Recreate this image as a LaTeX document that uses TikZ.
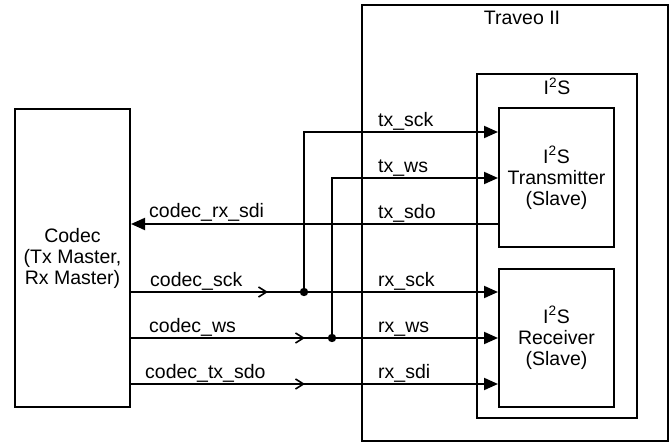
\documentclass[tikz,border=0pt]{standalone}
\usepackage{fontspec}
\setmainfont{Liberation Sans}
\usetikzlibrary{arrows.meta}
\begin{document}
\begin{tikzpicture}[x=1pt,y=-1pt,
  every node/.style={font=\fontsize{19.5}{21}\selectfont},
  box/.style={draw,line width=2pt,inner sep=0pt,align=center},
  wire/.style={line width=2pt},
  lbl/.style={inner sep=0pt,anchor=base west},
  sarrow/.style={-{Triangle[length=14pt,width=12pt]}},
  barb/.style={-{Straight Barb[length=8pt,width=10pt,line width=1.6pt]}}]
\useasboundingbox (0,0) rectangle (670,443);
% boxes
\node[box,minimum width=115pt,minimum height=298pt] (codec) at (72.5,258) {Codec\\(Tx Master,\\Rx Master)};
\node[box,minimum width=306pt,minimum height=436pt] (traveo) at (515,223) {};
\node[inner sep=0pt,anchor=base] (traveolbl) at (522,25) {Traveo II};
\node[box,minimum width=160pt,minimum height=344pt] (i2s) at (557,246) {};
\node[inner sep=0pt,anchor=base] (i2slbl) at (557,95) {I\textsuperscript{2}S};
\node[box,minimum width=115pt,minimum height=139pt] (tx) at (556.5,177.5) {I\textsuperscript{2}S\\Transmitter\\(Slave)};
\node[box,minimum width=115pt,minimum height=138pt] (rx) at (556.5,338) {I\textsuperscript{2}S\\Receiver\\(Slave)};
% coordinates
\coordinate (sckdot) at (304,292);
\coordinate (wsdot) at (332,338);
\coordinate (sdoy) at (0,224);
\coordinate (sdiy) at (0,384);
\coordinate (txscky) at (0,132);
\coordinate (txwsy) at (0,178);
\coordinate (sckbarb) at (268,292);
\coordinate (wsbarb) at (305,338);
\coordinate (sdibarb) at (305,384);
% wires
\draw[wire,sarrow] (tx.west |- sdoy) -- (codec.east |- sdoy);
\draw[wire,sarrow] (codec.east |- sckdot) -- (rx.west |- sckdot);
\draw[wire,barb] (codec.east |- sckdot) -- (sckbarb);
\draw[wire,sarrow] (codec.east |- wsdot) -- (rx.west |- wsdot);
\draw[wire,barb] (codec.east |- wsdot) -- (wsbarb);
\draw[wire,sarrow] (codec.east |- sdiy) -- (rx.west |- sdiy);
\draw[wire,barb] (codec.east |- sdiy) -- (sdibarb);
\draw[wire,sarrow] (sckdot) |- (tx.west |- txscky);
\draw[wire,sarrow] (wsdot) |- (tx.west |- txwsy);
\fill (sckdot) circle (4.2);
\fill (wsdot) circle (4.2);
% labels
\node[lbl] at (149,218) {codec\_rx\_sdi};
\node[lbl] at (150,287) {codec\_sck};
\node[lbl] at (149,333) {codec\_ws};
\node[lbl] at (145,379) {codec\_tx\_sdo};
\node[lbl] at (378,127) {tx\_sck};
\node[lbl] at (378,173) {tx\_ws};
\node[lbl] at (378,219) {tx\_sdo};
\node[lbl] at (378,287) {rx\_sck};
\node[lbl] at (378,333) {rx\_ws};
\node[lbl] at (378,379) {rx\_sdi};
\end{tikzpicture}
\end{document}
